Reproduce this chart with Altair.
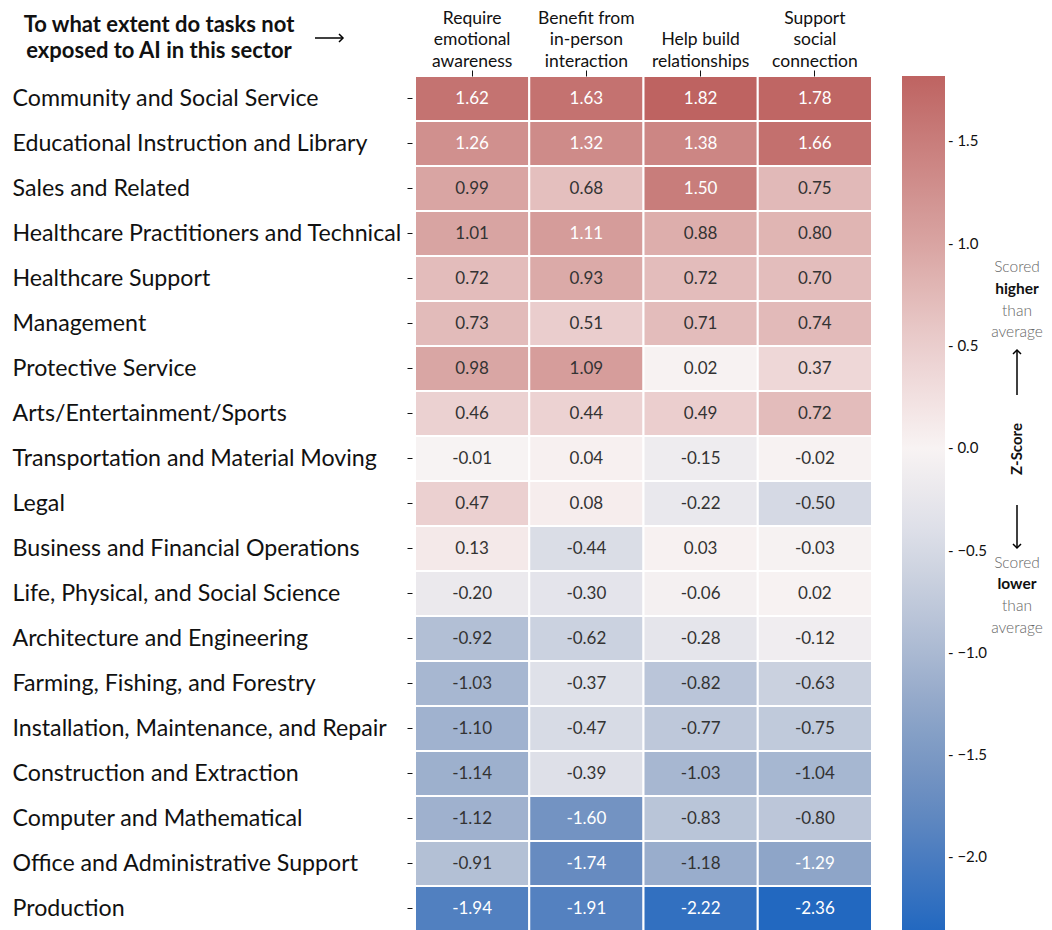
import altair as alt
import pandas as pd

sectors = [
    "Community and Social Service",
    "Educational Instruction and Library",
    "Sales and Related",
    "Healthcare Practitioners and Technical",
    "Healthcare Support",
    "Management",
    "Protective Service",
    "Arts/Entertainment/Sports",
    "Transportation and Material Moving",
    "Legal",
    "Business and Financial Operations",
    "Life, Physical, and Social Science",
    "Architecture and Engineering",
    "Farming, Fishing, and Forestry",
    "Installation, Maintenance, and Repair",
    "Construction and Extraction",
    "Computer and Mathematical",
    "Office and Administrative Support",
    "Production",
]

tasks = [
    "Require|emotional|awareness",
    "Benefit from|in-person|interaction",
    "|Help build|relationships",
    "Support|social|connection",
]

emotional_awareness = [1.62, 1.26, 0.99, 1.01, 0.72, 0.73, 0.98, 0.46, -0.01, 0.47,
                       0.13, -0.20, -0.92, -1.03, -1.10, -1.14, -1.12, -0.91, -1.94]
in_person = [1.63, 1.32, 0.68, 1.11, 0.93, 0.51, 1.09, 0.44, 0.04, 0.08,
             -0.44, -0.30, -0.62, -0.37, -0.47, -0.39, -1.60, -1.74, -1.91]
relationships = [1.82, 1.38, 1.50, 0.88, 0.72, 0.71, 0.02, 0.49, -0.15, -0.22,
                 0.03, -0.06, -0.28, -0.82, -0.77, -1.03, -0.83, -1.18, -2.22]
social_connection = [1.78, 1.66, 0.75, 0.80, 0.70, 0.74, 0.37, 0.72, -0.02, -0.50,
                     -0.03, 0.02, -0.12, -0.63, -0.75, -1.04, -0.80, -1.29, -2.36]

legend_ticks = [-2.0, -1.5, -1.0, -0.5, 0.0, 0.5, 1.0, 1.5]

color_domain = [-2.36, -1.74, -1.29, -0.92, -0.39, 0.0, 0.51, 0.93, 1.26, 1.82]
color_range = ["#2268c0", "#678bc0", "#8ea5c8", "#b2bfd5", "#dee0e8",
               "#f8f3f3", "#eacdcd", "#dbaaa8", "#d0908e", "#be6361"]

rows = []
for i, s in enumerate(sectors):
    for t, vals in zip(tasks, [emotional_awareness, in_person, relationships, social_connection]):
        rows.append({"sector": s, "task": t, "z": vals[i], "label": f"{vals[i]:.2f}"})
df = pd.DataFrame(rows)

FONT = "Lato"

x_enc = alt.X(
    "task:N", sort=tasks,
    scale=alt.Scale(paddingInner=0, paddingOuter=0),
    axis=alt.Axis(orient="top", labelExpr="split(datum.label, '|')", labelAngle=0,
                  labelFontSize=17.5, labelLineHeight=21.5, labelBaseline="alphabetic",
                  labelColor="#111", tickSize=6, tickColor="#111", domain=False,
                  labelPadding=47, title=None, labelLimit=0),
)
y_enc = alt.Y(
    "sector:N", sort=sectors,
    scale=alt.Scale(paddingInner=0, paddingOuter=0),
    axis=alt.Axis(labelAlign="left", labelPadding=395, labelFontSize=23.2,
                  labelColor="#111", tickSize=5, tickColor="#111", offset=3,
                  domain=False, title=None, labelLimit=0),
)

heat = alt.Chart(df).mark_rect(stroke="white", strokeWidth=2).encode(
    x=x_enc,
    y=y_enc,
    color=alt.Color(
        "z:Q",
        scale=alt.Scale(domain=color_domain, range=color_range, interpolate="rgb"),
        legend=alt.Legend(
            orient="none", legendX=487, legendY=0, direction="vertical",
            gradientLength=855, gradientThickness=43, gradientStrokeWidth=0,
            values=legend_ticks, format=".1f", labelExpr="'- ' + datum.label",
            labelFontSize=15, labelColor="#111", labelOffset=3, padding=0,
            title=None,
        ),
    ),
)

text = alt.Chart(df).mark_text(fontSize=17, font=FONT).encode(
    x=x_enc,
    y=y_enc,
    text="label:N",
    color=alt.condition("datum.z >= 1.1 || datum.z <= -1.2", alt.value("white"), alt.value("#333333")),
)

one = alt.Data(values=[{}])

def label(txt, x, y, size=15.5, weight="normal", color="#111", angle=0):
    kw = dict(text=txt, fontSize=size, fontWeight=weight, color=color, font=FONT,
              align="center", baseline="middle")
    if angle:
        kw["angle"] = angle
    return alt.Chart(one).mark_text(**kw).encode(x=alt.value(x), y=alt.value(y))

AX = 602
annotations = [
    label("To what extent do tasks not", -256, -51, size=22, weight="bold"),
    label("exposed to AI in this sector", -256, -25, size=22, weight="bold"),
    label("Scored", AX, 191, color="#666", weight=300),
    label("higher", AX, 213, weight="bold"),
    label("than", AX, 235, color="#666", weight=300),
    label("average", AX, 256, color="#666", weight=300),
    label("Z-Score", AX, 373, size=15, weight="bold", angle=270),
    label("Scored", AX, 487, color="#666", weight=300),
    label("lower", AX, 508, weight="bold"),
    label("than", AX, 530, color="#666", weight=300),
    label("average", AX, 552, color="#666", weight=300),
]

shaft_up = alt.Chart(one).mark_rule(color="black", strokeWidth=1.5).encode(
    x=alt.value(AX), y=alt.value(275), y2=alt.value(319))
head_up = alt.Chart(one).mark_point(shape="M-1,1L0,0L1,1", filled=False, stroke="black",
                                    strokeWidth=1.5, size=64, opacity=1).encode(
    x=alt.value(AX), y=alt.value(274))
shaft_down = alt.Chart(one).mark_rule(color="black", strokeWidth=1.5).encode(
    x=alt.value(AX), y=alt.value(429), y2=alt.value(471))
head_down = alt.Chart(one).mark_point(shape="M-1,-1L0,0L1,-1", filled=False, stroke="black",
                                      strokeWidth=1.5, size=64, opacity=1).encode(
    x=alt.value(AX), y=alt.value(472))
shaft_right = alt.Chart(one).mark_rule(color="black", strokeWidth=1.5).encode(
    x=alt.value(-100), x2=alt.value(-73), y=alt.value(-38))
head_right = alt.Chart(one).mark_point(shape="M-1,-1L0,0L-1,1", filled=False, stroke="black",
                                       strokeWidth=1.5, size=64, opacity=1).encode(
    x=alt.value(-72), y=alt.value(-38))

chart = alt.layer(
    heat, text, *annotations, shaft_up, head_up, shaft_down, head_down, shaft_right, head_right
).properties(
    width=457, height=855,
    autosize=alt.AutoSizeParams(type="none"),
    padding={"left": 407, "top": 68, "right": 172, "bottom": 0},
).configure(font=FONT).configure_view(strokeWidth=0)

chart.save("out.html", embed_options={"renderer": "svg", "actions": False})
